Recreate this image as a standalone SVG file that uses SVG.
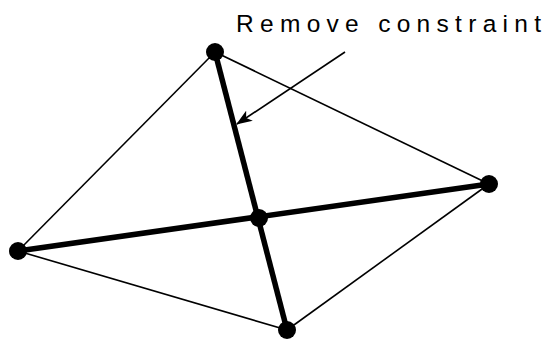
<svg xmlns="http://www.w3.org/2000/svg" width="549" height="341" viewBox="0 0 549 341">
<style>
.thin{stroke:#000;stroke-width:1.6;fill:none}
.thick{stroke:#000;stroke-width:5.5;fill:none}
.node{fill:#000}
.lbl{font-family:"Liberation Sans",Arial,sans-serif;font-size:24.5px;letter-spacing:6.3px;fill:#000}
</style>
<defs>
<marker id="ah" markerWidth="16" markerHeight="12" refX="15" refY="6" orient="auto" markerUnits="userSpaceOnUse">
<path d="M0,0 L16,6 L0,12 L4,6 Z" fill="#000"/>
</marker>
</defs>
<rect width="549" height="341" fill="#fff"/>
<g id="connectors">
<line class="thin" x1="215" y1="52" x2="18" y2="251"/>
<line class="thin" x1="215" y1="52" x2="489" y2="184"/>
<line class="thin" x1="18" y1="251" x2="287" y2="330"/>
<line class="thin" x1="287" y1="330" x2="489" y2="184"/>
<line class="thick" x1="215" y1="52" x2="287" y2="330"/>
<line class="thick" x1="18" y1="251" x2="489" y2="184"/>
<line class="thin" x1="345" y1="52" x2="237" y2="124" marker-end="url(#ah)"/>
</g>
<g id="node-top"><circle class="node" cx="215" cy="52" r="9"/></g>
<g id="node-right"><circle class="node" cx="489" cy="184" r="9"/></g>
<g id="node-left"><circle class="node" cx="18" cy="251" r="9"/></g>
<g id="node-center"><circle class="node" cx="259" cy="218" r="9"/></g>
<g id="node-bottom"><circle class="node" cx="287" cy="330" r="9"/></g>
<g id="label"><text class="lbl" x="236" y="32">Remove constraint</text></g>
</svg>
